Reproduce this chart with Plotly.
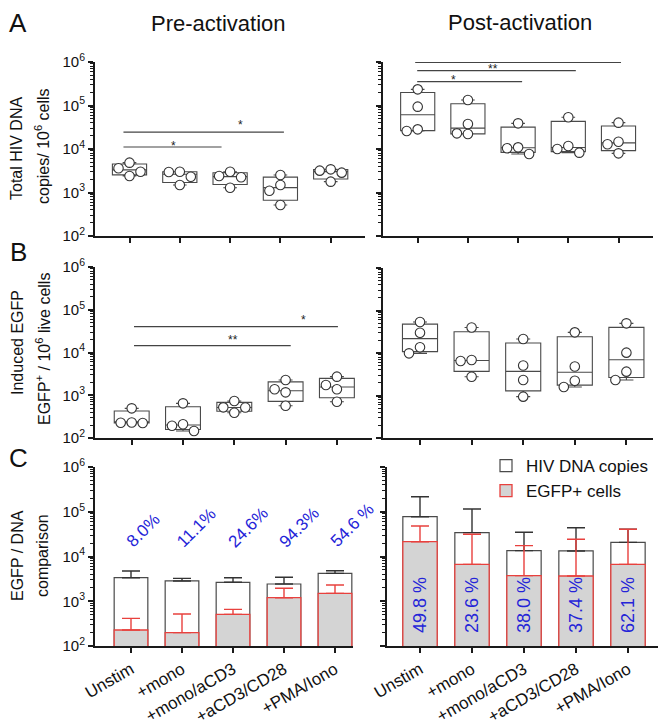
import math
import plotly.graph_objects as go

# ---------------- data ----------------
categories = ["Unstim", "+mono", "+mono/aCD3", "+aCD3/CD28", "+PMA/Iono"]

# Panel A: total HIV DNA copies / 10^6 cells (4 donors per condition)
dna_pre = [
    [4850, 3600, 3010, 2390],
    [3010, 2950, 2310, 1490],
    [3010, 2390, 2235, 1290],
    [2520, 1490, 1100, 516],
    [3410, 3180, 2860, 1775],
]
dna_post = [
    [235000, 94000, 28300, 25900],
    [134000, 37600, 22900, 22100],
    [38900, 10900, 10400, 7670],
    [53500, 11700, 10000, 8240],
    [40300, 14700, 12900, 7950],
]
# Panel B: induced EGFP+ / 10^6 live cells
egfp_pre = [
    [494, 230, 228, 225],
    [647, 209, 194, 146],
    [733, 521, 515, 391],
    [2280, 1380, 1170, 570],
    [2720, 1740, 1380, 707],
]
egfp_post = [
    [53600, 30000, 13600, 9820],
    [39900, 6840, 6480, 2770],
    [21300, 5080, 2320, 940],
    [30600, 4810, 2230, 1590],
    [49900, 10200, 3640, 2320],
]
# Panel C: mean + SD
dna_mean_pre = [3360, 2840, 2650, 2430, 4200]
dna_sd_pre = [1380, 410, 710, 1000, 620]
egfp_mean_pre = [228, 199, 510, 1200, 1500]
egfp_sd_pre = [187, 320, 149, 750, 800]
dna_mean_post = [77600, 34100, 13500, 13300, 20700]
dna_sd_post = [139400, 80900, 21200, 30700, 19800]
egfp_mean_post = [21400, 6680, 3730, 3670, 6680]
egfp_sd_post = [26700, 24620, 13770, 20530, 33820]
pct_pre = ["8.0%", "11.1%", "24.6%", "94.3%", "54.6 %"]
pct_post = ["49.8 %", "23.6 %", "38.0 %", "37.4 %", "62.1 %"]

ytick_vals = [1e2, 1e3, 1e4, 1e5, 1e6]
ytick_text = ["10<sup>2</sup>", "10<sup>3</sup>", "10<sup>4</sup>", "10<sup>5</sup>", "10<sup>6</sup>"]

# ---------------- layout geometry (target pixels in the 666x728 window) ----------------
OFF = 8                      # page margin around the figure
W, H = 666 - OFF, 728 - OFF  # figure size
FONT = "Liberation Sans, Arial, Helvetica, sans-serif"
AX = "#1a1a1a"
BOXC = "#4a4a4a"
RED = "#e8413e"
BLUE = "#2424d8"


def PX(x):
    return (x - OFF) / W


def PY(y):
    return 1 - (y - OFF) / H


# left, right, top, bottom, first-category px, category spacing px
geom = {
    1: (95, 365, 62, 236, 129.5, 50.3),
    2: (383, 653, 62, 236, 417.7, 50.2),
    3: (95, 372, 267, 438, 131.7, 51.3),
    4: (383, 653, 268, 438, 420.0, 51.6),
    5: (95, 353, 467, 646, 131.0, 51.0),
    6: (387, 662, 467, 646, 420.0, 52.0),
}


def axname(k, a):
    return a if k == 1 else f"{a}{k}"


def ref(k, a):
    return a if k == 1 else f"{a}{k}"


def quant(vals, p):
    s = sorted(vals)
    n = len(s)
    h = p * (n + 1) - 1
    h = min(max(h, 0), n - 1)
    lo = int(math.floor(h))
    hi = min(lo + 1, n - 1)
    return s[lo] + (h - lo) * (s[hi] - s[lo])


def swarm(vals, sp, ppd, diam=9.6, step=11.0):
    order = sorted(range(len(vals)), key=lambda i: -vals[i])
    placed = []
    offs = [0.0] * len(vals)
    for i in order:
        y = math.log10(vals[i]) * ppd
        xo = 0.0
        for kk in [0, -1, 1, -2, 2]:
            x = kk * step
            if all(math.hypot(x - px, y - py) >= diam for px, py in placed):
                xo = x
                break
        placed.append((xo, y))
        offs[i] = xo / sp
    return offs


fig = go.Figure()

box_sets = {1: dna_pre, 2: dna_post, 3: egfp_pre, 4: egfp_post}
for k, groups in box_sets.items():
    l, r, t, b, c0, sp = geom[k]
    ppd = (b - t) / 4.0
    xs = list(range(len(categories)))
    fig.add_trace(go.Box(
        x=xs,
        q1=[quant(g, 0.25) for g in groups],
        median=[quant(g, 0.5) for g in groups],
        q3=[quant(g, 0.75) for g in groups],
        lowerfence=[min(g) for g in groups],
        upperfence=[max(g) for g in groups],
        boxpoints=False, width=0.68, whiskerwidth=0.4,
        fillcolor="white", line=dict(color=BOXC, width=1.1),
        xaxis=ref(k, "x"), yaxis=ref(k, "y"), showlegend=False, hoverinfo="skip",
    ))
    px_, py_ = [], []
    for i, g in enumerate(groups):
        offs = swarm(g, sp, ppd)
        for v, o in zip(g, offs):
            px_.append(i + o)
            py_.append(v)
    fig.add_trace(go.Scatter(
        x=px_, y=py_, mode="markers",
        marker=dict(symbol="circle", size=9.5, color="white", line=dict(color="#333333", width=1.1)),
        xaxis=ref(k, "x"), yaxis=ref(k, "y"), showlegend=False, hoverinfo="skip",
    ))

bar_sets = {
    5: (dna_mean_pre, dna_sd_pre, egfp_mean_pre, egfp_sd_pre),
    6: (dna_mean_post, dna_sd_post, egfp_mean_post, egfp_sd_post),
}
for k, (dm, ds, em, es) in bar_sets.items():
    xs = list(range(len(categories)))
    fig.add_trace(go.Bar(
        x=xs, y=dm, width=0.66, name="HIV DNA copies",
        marker=dict(color="white", line=dict(color=BOXC, width=1.2)),
        error_y=dict(type="data", symmetric=False, array=ds, arrayminus=[0] * len(ds),
                     color="#333333", thickness=1.4, width=9),
        xaxis=ref(k, "x"), yaxis=ref(k, "y"), showlegend=(k == 6), legendrank=1,
        hoverinfo="skip",
    ))
    fig.add_trace(go.Bar(
        x=xs, y=em, width=0.66, name="EGFP+ cells",
        marker=dict(color="#d4d4d4", line=dict(color=RED, width=1.3)),
        error_y=dict(type="data", symmetric=False, array=es, arrayminus=[0] * len(es),
                     color=RED, thickness=1.4, width=9),
        xaxis=ref(k, "x"), yaxis=ref(k, "y"), showlegend=(k == 6), legendrank=2,
        hoverinfo="skip",
    ))

layout = dict(
    width=W, height=H, margin=dict(l=0, r=0, t=0, b=0, autoexpand=False),
    paper_bgcolor="white", plot_bgcolor="white",
    font=dict(family=FONT, color="#111111"),
    barmode="overlay",
    legend=dict(x=PX(486), y=PY(448), xanchor="left", yanchor="top",
                font=dict(size=17, family=FONT, color="#111111"),
                bgcolor="rgba(0,0,0,0)", tracegroupgap=0, itemwidth=30),
)

for k, (l, r, t, b, c0, sp) in geom.items():
    layout[axname(k, "xaxis")] = dict(
        domain=[PX(l), PX(r)], range=[(l - c0) / sp, (r - c0) / sp],
        anchor=ref(k, "y"), showline=True, linecolor=AX, linewidth=2,
        ticks="outside", ticklen=5, tickwidth=1.5, tickcolor=AX,
        tickmode="array", tickvals=list(range(len(categories))),
        ticktext=categories, showticklabels=(k in (5, 6)), tickangle=-30,
        tickfont=dict(size=17, family=FONT, color="#111111"),
        showgrid=False, zeroline=False, fixedrange=True, automargin=False,
    )
    layout[axname(k, "yaxis")] = dict(
        type="log", domain=[PY(b), PY(t)], range=[2, 6],
        anchor=ref(k, "x"), showline=True, linecolor=AX, linewidth=2,
        ticks="outside", ticklen=5, tickwidth=1.5, tickcolor=AX,
        tickmode="array", tickvals=ytick_vals, ticktext=ytick_text,
        showticklabels=(k in (1, 3, 5)),
        tickfont=dict(size=15, family=FONT, color="#111111"),
        minor=dict(ticks="outside", ticklen=3, tickwidth=1, tickcolor=AX, dtick="D1", showgrid=False),
        showgrid=False, zeroline=False, fixedrange=True, automargin=False,
    )

annotations = []


def pann(text, x, y, size, angle=0, **kw):
    d = dict(text=text, x=PX(x), y=PY(y), xref="paper", yref="paper",
             xanchor="center", yanchor="middle",
             showarrow=False, textangle=angle, font=dict(size=size, family=FONT, color="#111111"))
    d.update(kw)
    annotations.append(d)


pann("A", 18, 23, 26)
pann("B", 18, 252, 26)
pann("C", 18, 458, 26)
pann("Pre-activation", 218, 23, 22)
pann("Post-activation", 520, 22, 22)
pann("Total HIV DNA", 17, 149, 16, -90)
pann("copies/ 10<sup>6</sup> cells", 42, 146, 16, -90)
pann("Induced EGFP", 17, 343, 16, -90)
pann("EGFP<sup>+</sup> / 10<sup>6</sup> live cells", 43, 349, 16, -90)
pann("EGFP / DNA", 17, 556, 16, -90)
pann("comparison", 42, 556, 16, -90)

# percent labels
for i, s in enumerate(pct_pre):
    annotations.append(dict(text=s, x=i - 0.22, y=4.06, xref="x5", yref="y5",
                            xanchor="left", yanchor="bottom", showarrow=False, textangle=-45,
                            font=dict(size=17, family=FONT, color=BLUE)))
for i, s in enumerate(pct_post):
    annotations.append(dict(text=s, x=i, y=2.916, xref="x6", yref="y6",
                            xanchor="center", yanchor="middle",
                            showarrow=False, textangle=-90,
                            font=dict(size=18, family=FONT, color=BLUE)))

# significance bars: (panel, x0, x1, ylog, label, xlabel, ylabel_log)
sig = [
    (1, -0.12, 1.83, 4.046, "*", 0.87, 4.07),
    (1, -0.12, 3.07, 4.39, "*", 2.2, 4.55),
    (2, -0.05, 4.05, 5.99, "*", 2.87, 6.14),
    (2, -0.01, 3.15, 5.80, "**", 1.5, 5.84),
    (2, -0.01, 2.08, 5.547, "*", 0.72, 5.586),
    (3, 0.045, 3.1, 4.159, "**", 1.97, 4.29),
    (3, 0.045, 4.02, 4.604, "*", 3.34, 4.76),
]
shapes = []
for k, x0, x1, yl, lab, xl, ylab in sig:
    shapes.append(dict(type="line", xref=ref(k, "x"), yref=ref(k, "y"),
                       x0=x0, x1=x1, y0=10 ** yl, y1=10 ** yl,
                       line=dict(color="#444444", width=1.2)))
    annotations.append(dict(text=lab, x=xl, y=ylab, xref=ref(k, "x"), yref=ref(k, "y"),
                            xanchor="center", yanchor="middle",
                            showarrow=False, font=dict(size=12, family=FONT, color="#222222")))

layout["annotations"] = annotations
layout["shapes"] = shapes
fig.update_layout(**layout)
fig.write_html("out.html")
